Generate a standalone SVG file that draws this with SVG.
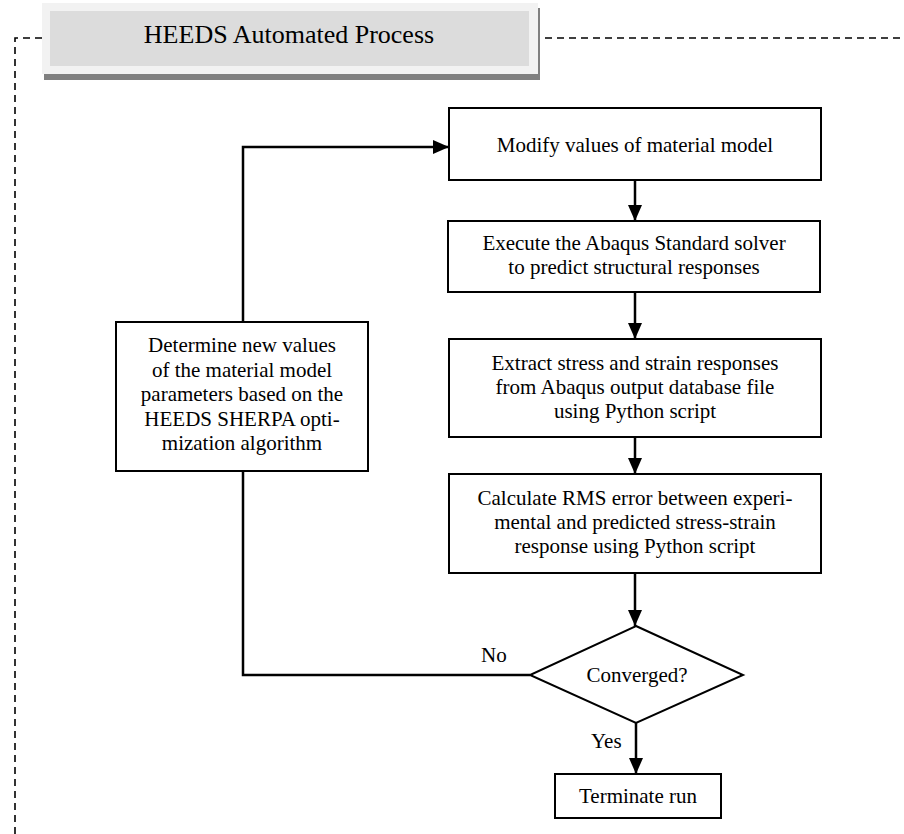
<svg xmlns="http://www.w3.org/2000/svg" width="904" height="834" viewBox="0 0 904 834">
<style>
  .box { fill: #ffffff; stroke: #000000; stroke-width: 2; }
  .t { font-family: "Liberation Serif", "Times New Roman", serif; font-size: 21px; fill: #000000; text-anchor: middle; }
  .lbl { font-family: "Liberation Serif", "Times New Roman", serif; font-size: 21px; fill: #000000; }
  .conn { fill: none; stroke: #000000; stroke-width: 2.5; }
  .dash { fill: none; stroke: #000000; stroke-width: 1.6; stroke-dasharray: 7 5; }
</style>
<defs>
  <marker id="arrow" markerUnits="userSpaceOnUse" markerWidth="16" markerHeight="14" refX="16" refY="7" orient="auto">
    <path d="M0,0 L16,7 L0,14 z" fill="#000000"/>
  </marker>
</defs>

<g id="boundary">
  <path class="dash" d="M42,38 L15,38 L15,834"/>
  <path class="dash" d="M545,38 L904,38"/>
</g>

<g id="header">
  <rect x="44" y="8" width="496" height="72" fill="#808080"/>
  <rect x="42" y="3" width="496" height="71" fill="#f2f2f2"/>
  <rect x="50" y="11" width="479" height="55" fill="#dcdcdc"/>
  <text x="289" y="43" font-family="Liberation Serif, Times New Roman, serif" font-size="26" text-anchor="middle" fill="#000000">HEEDS Automated Process</text>
</g>

<g id="connectors">
  <line class="conn" x1="635" y1="180" x2="635" y2="221" marker-end="url(#arrow)"/>
  <line class="conn" x1="635" y1="292" x2="635" y2="339" marker-end="url(#arrow)"/>
  <line class="conn" x1="635" y1="437" x2="635" y2="474" marker-end="url(#arrow)"/>
  <line class="conn" x1="635" y1="573" x2="635" y2="626" marker-end="url(#arrow)"/>
  <line class="conn" x1="636" y1="723" x2="636" y2="774" marker-end="url(#arrow)"/>
  <path class="conn" d="M530,675 L243,675 L243,471"/>
  <path class="conn" d="M243,322 L243,147 L449,147" marker-end="url(#arrow)"/>
  <text class="lbl" x="481" y="662">No</text>
  <text class="lbl" x="591" y="748">Yes</text>
</g>

<g id="modify">
  <rect class="box" x="449" y="108" width="372" height="72"/>
  <text class="t" x="635" y="152">Modify values of material model</text>
</g>

<g id="execute">
  <rect class="box" x="448" y="221" width="372" height="71"/>
  <text class="t" x="634" y="250">Execute the Abaqus Standard solver</text>
  <text class="t" x="634" y="274">to predict structural responses</text>
</g>

<g id="extract">
  <rect class="box" x="449" y="339" width="372" height="98"/>
  <text class="t" x="635" y="370">Extract stress and strain responses</text>
  <text class="t" x="635" y="394">from Abaqus output database file</text>
  <text class="t" x="635" y="418">using Python script</text>
</g>

<g id="calculate">
  <rect class="box" x="449" y="474" width="372" height="99"/>
  <text class="t" x="635" y="505">Calculate RMS error between experi-</text>
  <text class="t" x="635" y="529">mental and predicted stress-strain</text>
  <text class="t" x="635" y="553">response using Python script</text>
</g>

<g id="determine">
  <rect class="box" x="116" y="322" width="252" height="149"/>
  <text class="t" x="242" y="352">Determine new values</text>
  <text class="t" x="242" y="377">of the material model</text>
  <text class="t" x="242" y="401">parameters based on the</text>
  <text class="t" x="242" y="426">HEEDS SHERPA opti-</text>
  <text class="t" x="242" y="450">mization algorithm</text>
</g>

<g id="converged">
  <polygon points="636,626 743,675 636,723 530,675" fill="#ffffff" stroke="#000000" stroke-width="2"/>
  <text class="t" x="637" y="682">Converged?</text>
</g>

<g id="terminate">
  <rect class="box" x="555" y="774" width="166" height="44"/>
  <text class="t" x="638" y="803">Terminate run</text>
</g>
</svg>
